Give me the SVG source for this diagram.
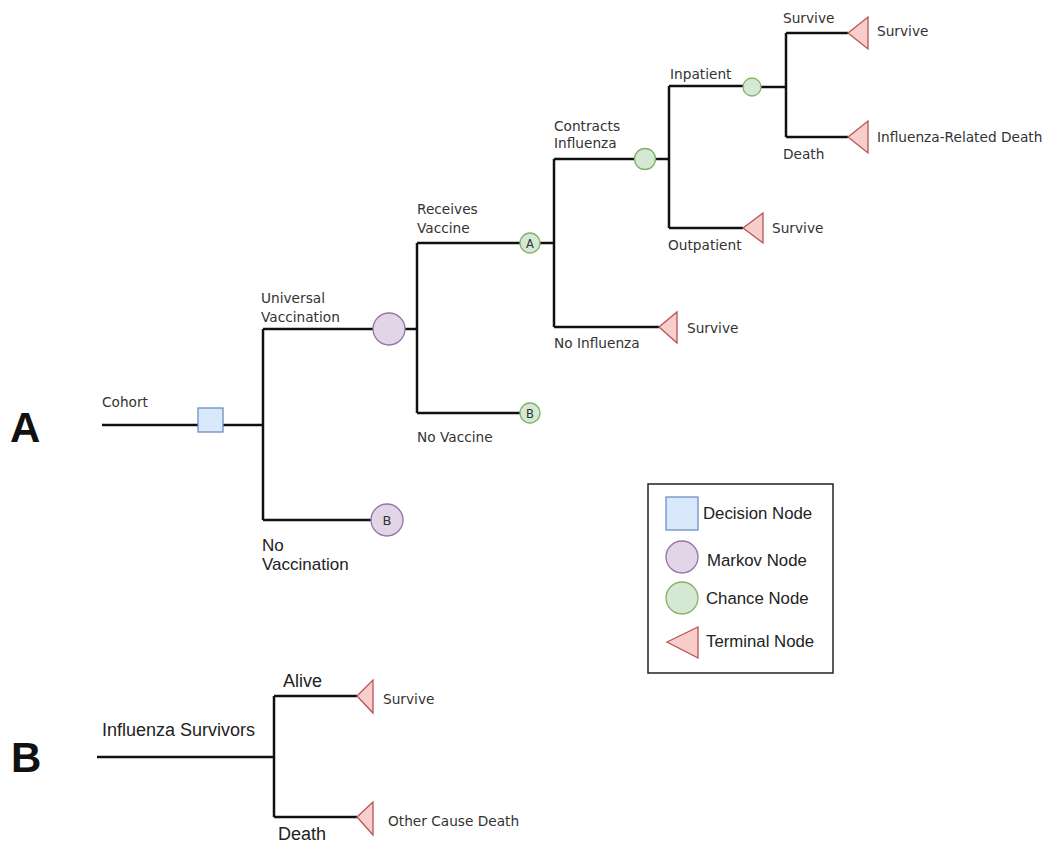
<svg xmlns="http://www.w3.org/2000/svg" width="1049" height="842" viewBox="0 0 1049 842">
<style>
.ln{stroke:#111;stroke-width:2.5;fill:none}
.dec{fill:#dae8fc;stroke:#6c8ebf;stroke-width:1.3}
.mk{fill:#e1d5e7;stroke:#9673a6;stroke-width:1.3}
.ch{fill:#d5e8d4;stroke:#82b366;stroke-width:1.3}
.tm{fill:#f8cecc;stroke:#b85450;stroke-width:1.3}
.s{font-family:"DejaVu Sans",sans-serif;font-size:13.7px;fill:#333}
.m{font-family:"Liberation Sans",Arial,sans-serif;font-size:18px;fill:#222}
.lg{font-family:"Liberation Sans",Arial,sans-serif;font-size:16.8px;fill:#222}
.big{font-family:"Liberation Sans",Arial,sans-serif;font-size:42px;font-weight:bold;fill:#111}
.in{font-family:"DejaVu Sans",sans-serif;fill:#333;text-anchor:middle}
</style>
<rect width="1049" height="842" fill="#fff"/>
<g id="connectors">
<path class="ln" d="M102 425H198M223 425H263M263 329V520M263 329H373M263 520H371"/>
<path class="ln" d="M405 329H417M417 243V413M417 243H520M417 413H520"/>
<path class="ln" d="M540 243H554M554 159V327M554 159H634M554 327H659"/>
<path class="ln" d="M656 159H669M669 86V228M669 86H743M669 228H743"/>
<path class="ln" d="M761 87H786M786 33V137M786 33H848M786 137H848"/>
<path class="ln" d="M97 757H274M274 696V817M274 696H357M274 817H357"/>
</g>
<g id="label-A"><text class="big" x="10" y="442">A</text></g>
<g id="label-B"><text class="big" x="11" y="772">B</text></g>
<g id="edge-labels">
<text class="s" x="102" y="407">Cohort</text>
<text class="s" x="261" y="303">Universal</text>
<text class="s" x="261" y="322">Vaccination</text>
<text class="m" style="font-size:17px" x="262" y="551">No</text>
<text class="m" style="font-size:17px" x="262" y="570">Vaccination</text>
<text class="s" x="417" y="214">Receives</text>
<text class="s" x="417" y="233">Vaccine</text>
<text class="s" x="417" y="442">No Vaccine</text>
<text class="s" x="554" y="131">Contracts</text>
<text class="s" x="554" y="148">Influenza</text>
<text class="s" x="554" y="348">No Influenza</text>
<text class="s" x="670" y="79">Inpatient</text>
<text class="s" x="668" y="250">Outpatient</text>
<text class="s" x="783" y="23">Survive</text>
<text class="s" x="783" y="159">Death</text>
<text class="m" x="102" y="736">Influenza Survivors</text>
<text class="m" x="283" y="687">Alive</text>
<text class="m" x="278" y="840">Death</text>
</g>
<g id="decision-cohort"><rect class="dec" x="198" y="408" width="25" height="24"/></g>
<g id="markov-universal"><circle class="mk" cx="389" cy="329" r="16"/></g>
<g id="markov-B"><circle class="mk" cx="387" cy="520" r="16"/><text class="in" x="387" y="525" font-size="13">B</text></g>
<g id="chance-A"><circle class="ch" cx="530" cy="243" r="10"/><text class="in" x="530" y="247.5" font-size="11.5">A</text></g>
<g id="chance-B"><circle class="ch" cx="530" cy="413" r="10"/><text class="in" x="530" y="417.5" font-size="11.5">B</text></g>
<g id="chance-contracts"><circle class="ch" cx="645" cy="159" r="10.5"/></g>
<g id="chance-inpatient"><circle class="ch" cx="752" cy="87" r="9"/></g>
<g id="terminal-survive-inpatient"><polygon class="tm" points="848,33 868,17 868,49"/><text class="s" x="877" y="36">Survive</text></g>
<g id="terminal-death-inpatient"><polygon class="tm" points="848,137 868,121 868,153"/><text class="s" x="877" y="142">Influenza-Related Death</text></g>
<g id="terminal-outpatient"><polygon class="tm" points="743,228 763,213 763,243"/><text class="s" x="772" y="233">Survive</text></g>
<g id="terminal-noinfluenza"><polygon class="tm" points="659,327 677,312 677,343"/><text class="s" x="687" y="333">Survive</text></g>
<g id="terminal-alive"><polygon class="tm" points="357,696 373,680 373,713"/><text class="s" x="383" y="704">Survive</text></g>
<g id="terminal-othercause"><polygon class="tm" points="357,817 373,802 373,835"/><text class="s" x="388" y="826">Other Cause Death</text></g>
<g id="legend">
<rect x="648" y="484" width="185" height="189" fill="#fff" stroke="#222" stroke-width="1.5"/>
<rect class="dec" x="666" y="497" width="32" height="33"/>
<text class="lg" x="703" y="519">Decision Node</text>
<circle class="mk" cx="682" cy="557" r="16"/>
<text class="lg" x="707" y="566">Markov Node</text>
<circle class="ch" cx="682" cy="598" r="16"/>
<text class="lg" x="706" y="604">Chance Node</text>
<polygon class="tm" points="667,642 698,627 698,658"/>
<text class="lg" x="706" y="647">Terminal Node</text>
</g>
</svg>
